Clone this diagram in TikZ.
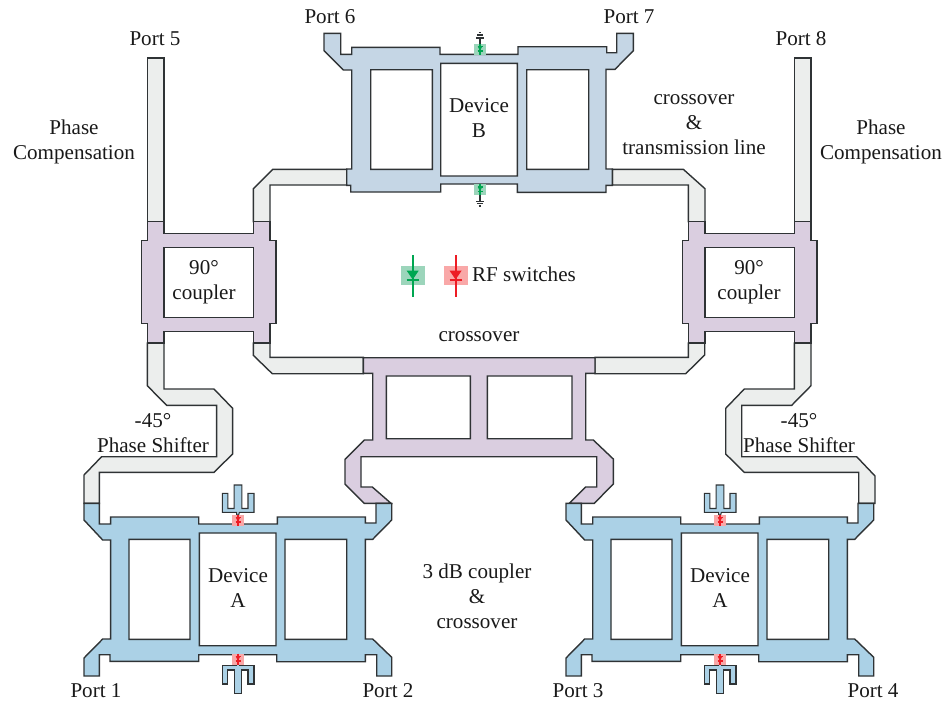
\documentclass[tikz,border=0pt]{standalone}
\usepackage{fontspec}
\setmainfont{Liberation Serif}
\definecolor{devablue}{HTML}{ABD1E6}
\definecolor{devbblue}{HTML}{C5D6E5}
\definecolor{cplpurple}{HTML}{DACEE0}
\definecolor{linegray}{HTML}{ECEEED}
\definecolor{swgreen}{HTML}{00A651}
\definecolor{swgreenbox}{HTML}{9CD5BB}
\definecolor{swred}{HTML}{ED1C24}
\definecolor{swredbox}{HTML}{F9A8A8}
\definecolor{edgedark}{HTML}{2F3335}
\tikzset{
	trace/.style = {draw = edgedark, line width = .8pt, even odd rule, line join = miter},
	lab/.style = {align = center, inner sep = 0pt, font = \fontsize{12}{14.2}\selectfont, text = black!90},
}
\begin{document}
\begin{tikzpicture}[x = .02cm, y = -.02cm]
	\useasboundingbox (0, 0) rectangle (946, 701);
	\def\rfsw(#1,#2,#3,#4){
		\fill[#4] (#1-6, #2-5.5) rectangle (#1+6, #2+5.5);
		\draw[#3, line width = .6pt] (#1, #2-5.5)--(#1, #2+5.5) (#1-2.5, #2-2.5)--(#1+2.5, #2-2.5) (#1-2.5, #2+2)--(#1+2.5, #2+2);
		\fill[#3] (#1-2.2, #2-2.5)--(#1+2.2, #2-2.5)--(#1, #2+2)--cycle;
	}
	\def\bigsw(#1,#2,#3){
		\fill[#3box] (#1-12, 266) rectangle (#1+12, 284.7);
		\draw[#3, line width = 1.1pt] (#1, 255)--(#1, 297) (#1-6, 280.3)--(#1+6, 280.3);
		\fill[#3] (#1-6, 270.7)--(#1+6, 270.7)--(#1, 279.5)--cycle;
	}
	% gray lines
	\draw[trace, fill = linegray] (147.3, 58) rectangle (164, 221.7);
	\draw[trace, fill = linegray] (794.3, 58) rectangle (811, 221.7);
	\draw[trace, fill = linegray] (253.3, 221.7)--(253.3, 188.7)--(272.7, 169.3)--(346.7, 169.3)--(346.7, 185)--(270, 185)--(270, 221.7)--cycle;
	\draw[trace, fill = linegray] (705, 221.7)--(705, 188.7)--(683.3, 169.3)--(612.3, 169.3)--(612.3, 185)--(688.3, 185)--(688.3, 221.7)--cycle;
	\draw[trace, fill = linegray] (253.3, 343)--(253.3, 355.3)--(272.3, 373.7)--(363.3, 373.7)--(363.3, 357.3)--(270, 357.3)--(270, 343)--cycle;
	\draw[trace, fill = linegray] (704.7, 343)--(704.7, 355)--(685.7, 373.7)--(595, 373.7)--(595, 357.3)--(688.3, 357.3)--(688.3, 343)--cycle;
	\draw[trace, fill = linegray] (147.3, 343)--(147.3, 385.7)--(166.6, 405.3)--(216.6, 405.3)--(216.6, 456.7)--(101.6, 456.7)--(84, 475)--(84, 503.3)--(99.3, 503.3)--(99.3, 472.3)--(214, 472.3)--(232.6, 454)--(232.6, 408.3)--(214, 389)--(164, 389)--(164, 343)--cycle;
	\draw[trace, fill = linegray] (811, 343)--(811, 385.7)--(791.7, 405.3)--(741.7, 405.3)--(741.7, 456.7)--(856.7, 456.7)--(875, 476)--(875, 503.3)--(858.7, 503.3)--(858.7, 472.3)--(744.3, 472.3)--(725.7, 454)--(725.7, 408.3)--(744.3, 389)--(794.3, 389)--(794.3, 343)--cycle;
	% 90 deg couplers
	\foreach \dx in {0, 541}
	\draw[trace, fill = cplpurple, shift = {(\dx, 0)}] (147.3, 221.7)--(164, 221.7)--(164, 233.3)--(253.3, 233.3)--(253.3, 221.7)--(270, 221.7)--(270, 240.3)--(276, 240.3)--(276, 323.7)--(270, 323.7)--(270, 343)--(253.3, 343)--(253.3, 331.3)--(164, 331.3)--(164, 343)--(147.3, 343)--(147.3, 323.7)--(141.7, 323.7)--(141.7, 240.3)--(147.3, 240.3)--cycle (164, 247.7) rectangle (253.3, 317.7);
	% 3 dB coupler
	\draw[trace, fill = cplpurple] (363.3, 357.7)--(595, 357.7)--(595, 373.3)--(585.7, 373.3)--(585.7, 440)--(593.3, 440)--(613.3, 459)--(613.3, 484)--(594.3, 503.3)--(569.3, 503.3)--(585.7, 487)--(596.7, 487)--(596.7, 456.7)--(361, 456.7)--(361, 487)--(372.3, 487)--(391, 503.3)--(364.3, 503.3)--(345, 484)--(345, 459.3)--(364.3, 440)--(372.7, 440)--(372.7, 373.3)--(363.3, 373.3)--cycle (386.3, 376) rectangle (470.3, 438.7) (487.3, 376) rectangle (572, 438.7);
	% device A
	\foreach \dx in {0, 482}{
		\begin{scope}[shift = {(\dx, 0)}]
			\draw[trace, fill = devablue] (84, 503.3)--(99.3, 503.3)--(99.3, 524)--(110.7, 524)--(110.7, 517)--(198.7, 517)--(198.7, 524)--(277.3, 524)--(277.3, 517)--(365.3, 517)--(365.3, 523)--(376, 523)--(376, 503.3)--(391.7, 503.3)--(391.7, 520)--(372.7, 539.3)--(365.3, 539.3)--(365.3, 639)--(372.7, 639)--(391.7, 657.3)--(391.7, 676)--(376.7, 676)--(376.7, 654.7)--(365.3, 654.7)--(365.3, 661.7)--(276.7, 661.7)--(276.7, 654.7)--(198.7, 654.7)--(198.7, 661.3)--(110, 661.3)--(110, 654.7)--(99.3, 654.7)--(99.3, 676)--(84, 676)--(84, 658)--(102.7, 639)--(110.7, 639)--(110.7, 540)--(102.7, 540)--(84, 520)--cycle (129, 539.3) rectangle (190, 639.3) (199.3, 533) rectangle (276, 645.7) (285, 539.3) rectangle (346.7, 639.3);
			\draw[trace, line width = .6pt, fill = devablue] (222.3, 493.3)--(227.8, 493.3)--(227.8, 508.5)--(234.2, 508.5)--(234.2, 485)--(241.8, 485)--(241.8, 508.5)--(248, 508.5)--(248, 493.3)--(254, 493.3)--(254, 512.3)--(239.3, 512.3)--(238.7, 515)--(236.7, 515)--(236.7, 512.3)--(222.3, 512.3)--cycle;
			\draw[trace, line width = .6pt, fill = devablue] (222.3, 665.7)--(236.7, 665.7)--(236.7, 663.3)--(239.7, 663.3)--(239.7, 665.7)--(254, 665.7)--(254, 684)--(248, 684)--(248, 670)--(241.8, 670)--(241.8, 693.3)--(234.2, 693.3)--(234.2, 670)--(227.8, 670)--(227.8, 684)--(222.3, 684)--cycle;
			\rfsw(238,520,swred,swredbox)
			\rfsw(238,659,swred,swredbox)
		\end{scope}
	}
	% device B
	\draw[trace, fill = devbblue] (324, 33.3)--(340.7, 33.3)--(340.7, 54.3)--(351.7, 54.3)--(351.7, 47.3)--(440, 47.3)--(440, 54.3)--(518, 54.3)--(518, 46.7)--(606.7, 46.7)--(606.7, 52.7)--(616.7, 52.7)--(616.7, 33.3)--(633.3, 33.3)--(633.3, 50.7)--(615, 69.3)--(606, 69.3)--(606, 169)--(612.3, 169)--(612.3, 185.3)--(606, 185.3)--(606, 192.3)--(517.3, 192.3)--(517.3, 184)--(440.7, 184)--(440.7, 192)--(350.7, 192)--(350.7, 185.3)--(346.7, 185.3)--(346.7, 169)--(351.7, 169)--(351.7, 70)--(343.3, 70)--(324, 50.7)--cycle (370.7, 69.7) rectangle (432.3, 169.3) (440.7, 63.3) rectangle (517.3, 176) (526.7, 69.7) rectangle (588.7, 169.3);
	\draw[line width = .7pt, edgedark] (480, 38)--(480, 44) (480, 194)--(480, 201.3) (476, 38)--(484, 38) (477.3, 35)--(482.7, 35) (478.7, 32.3)--(481.3, 32.3) (476, 201.3)--(484, 201.3) (477.3, 203.7)--(482.7, 203.7) (478.7, 206)--(481.3, 206);
	\rfsw(480,49,swgreen,swgreenbox)
	\rfsw(480,189.5,swgreen,swgreenbox)
	% legend
	\bigsw(412.7,0,swgreen)
	\bigsw(455.6,0,swred)
	% labels
	\foreach \nm/\px/\py/\txt in {pone/96/691/Port 1, ptwo/388/691/Port 2, pthree/578/691/Port 3, pfour/873/691/Port 4, pfive/155/39/Port 5, psix/330/17/Port 6, pseven/629/17/Port 7, peight/801/39/Port 8, xover/479/336.5/crossover, rfsw/524/274/RF switches}
	\node[lab] (\nm) at (\px, \py) {\txt};
	\foreach \nm/\px/\py in {compl/74/142, compr/881/142}
	\node[lab] (\nm) at (\px, \py) {Phase\\Compensation};
	\foreach \nm/\px in {cpll/204, cplr/749}
	\node[lab] (\nm) at (\px, 282.5) {90°\\coupler};
	\foreach \nm/\px in {shl/153, shr/799}
	\node[lab] (\nm) at (\px, 433.5) {-45°\\Phase Shifter};
	\foreach \nm/\px in {dal/238, dar/720}
	\node[lab] (\nm) at (\px, 588) {Device\\A};
	\node[lab] (devb) at (479, 118) {Device\\B};
	\node[lab] (xtl) at (694, 125) {crossover\\\&\\transmission line};
	\node[lab] (cpx) at (477, 596) {3 dB coupler\\\&\\crossover};
\end{tikzpicture}
\end{document}
